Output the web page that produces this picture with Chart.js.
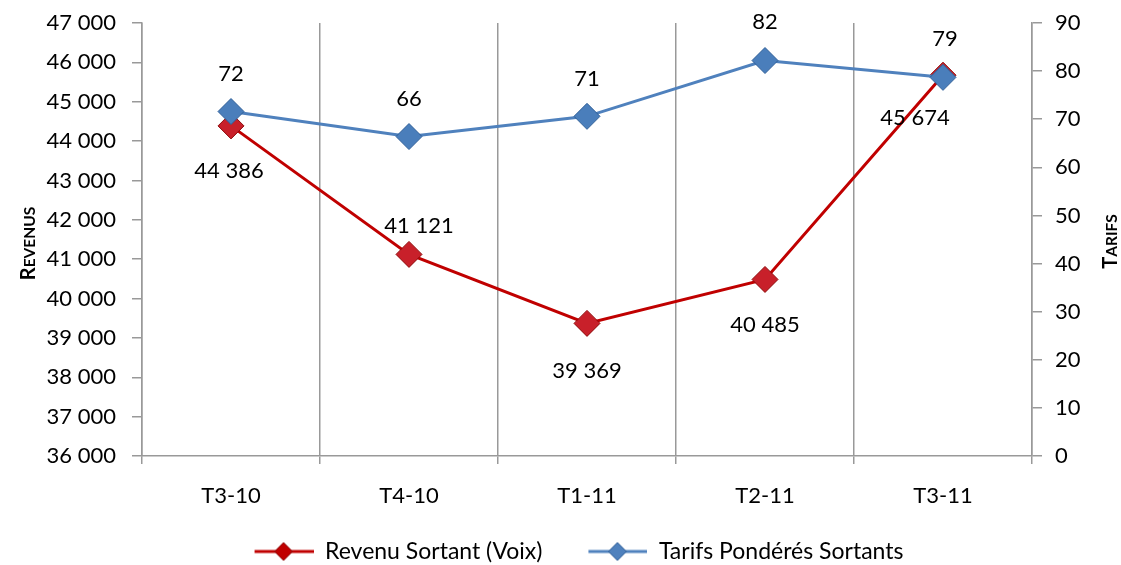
<!DOCTYPE html>
<html>
<head>
<meta charset="utf-8">
<script src="https://cdn.jsdelivr.net/npm/chart.js@4"></script>
<style>
  html, body { margin: 0; padding: 0; background: #fff; }
  #wrap { width: 1121px; height: 565px; }
</style>
</head>
<body>
<div id="wrap"><canvas id="chart"></canvas></div>
<script>
// données
const trimestres = ['T3-10', 'T4-10', 'T1-11', 'T2-11', 'T3-11'];
const revenuSortant = [44386, 41121, 39369, 40485, 45674];
const tarifsPonderes = [71.6, 66.4, 70.6, 82.2, 78.7];
const revenuTicks = [36000, 37000, 38000, 39000, 40000, 41000, 42000, 43000, 44000, 45000, 46000, 47000];

const ROUGE = '#C00000';
const BLEU = '#4F81BD';
const POLICE = 'Lato, "Open Sans", sans-serif';

// décalage des étiquettes (dx, dy) par point
const decalRevenu = [[-2, 45], [10, -29], [0, 48], [0, 45], [-28, 43]];
const decalTarifs = [[0, -38], [0, -38], [0, -37], [0, -39], [2, -38]];

function fmtEspace(v) {
    return Math.round(v).toString().replace(/\B(?=(\d{3})+(?!\d))/g, ' ');
}

// petite image ligne + losange pour la légende (marge transparente à gauche)
function iconeLegende(couleur, bord) {
    const c = document.createElement('canvas');
    c.width = 95; c.height = 22;
    const g = c.getContext('2d');
    g.strokeStyle = couleur;
    g.lineWidth = 3;
    g.beginPath(); g.moveTo(36, 11); g.lineTo(95, 11); g.stroke();
    g.fillStyle = couleur;
    g.strokeStyle = bord;
    g.lineWidth = 1;
    g.beginPath();
    g.moveTo(65, 2); g.lineTo(74, 11); g.lineTo(65, 20); g.lineTo(56, 11); g.closePath();
    g.fill(); g.stroke();
    return c;
}

// petites capitales à la main pour les titres d'axes
function petitesCapitales(ctx, texte, cx, cy) {
    ctx.save();
    ctx.translate(cx, cy);
    ctx.rotate(-Math.PI / 2);
    ctx.fillStyle = '#000';
    ctx.textBaseline = 'alphabetic';
    ctx.textAlign = 'left';
    const grand = 'bold 20px ' + POLICE;
    const petit = 'bold 15.5px ' + POLICE;
    ctx.font = grand;
    const w1 = ctx.measureText(texte[0]).width;
    ctx.font = petit;
    const w2 = ctx.measureText(texte.slice(1)).width;
    const x0 = -(w1 + w2) / 2;
    ctx.font = grand;
    ctx.fillText(texte[0], x0, 7);
    ctx.font = petit;
    ctx.fillText(texte.slice(1), x0 + w1, 7);
    ctx.restore();
}

const etiquettes = {
    id: 'etiquettes',
    afterDatasetsDraw(chart) {
        const ctx = chart.ctx;
        ctx.save();
        ctx.font = '22px ' + POLICE;
        ctx.fillStyle = '#000';
        ctx.textAlign = 'center';
        ctx.textBaseline = 'middle';
        chart.data.datasets.forEach((ds, i) => {
            const meta = chart.getDatasetMeta(i);
            const decal = ds.yAxisID === 'yR' ? decalRevenu : decalTarifs;
            meta.data.forEach((pt, j) => {
                const txt = ds.yAxisID === 'yR' ? fmtEspace(ds.data[j]) : Math.round(ds.data[j]).toString();
                ctx.fillText(txt, pt.x + decal[j][0], pt.y + decal[j][1]);
            });
        });
        ctx.restore();
    }
};

const titresAxes = {
    id: 'titresAxes',
    afterDraw(chart) {
        const area = chart.chartArea;
        const milieu = (area.top + area.bottom) / 2;
        petitesCapitales(chart.ctx, 'REVENUS', 28, milieu + 4);
        petitesCapitales(chart.ctx, 'TARIFS', 1110, milieu + 2);
    }
};

const ctx = document.getElementById('chart').getContext('2d');
const graphique = new Chart(ctx, {
    type: 'line',
    data: {
        labels: trimestres,
        datasets: [{
            label: 'Revenu Sortant (Voix)',
            data: revenuSortant,
            yAxisID: 'yR',
            borderColor: ROUGE,
            backgroundColor: '#C8202A',
            pointBorderColor: '#8E0A0A',
            borderWidth: 3,
            pointStyle: 'rectRot',
            pointRadius: 13,
            pointBorderWidth: 1,
            tension: 0,
            order: 1
        }, {
            label: 'Tarifs Pondérés Sortants',
            data: tarifsPonderes,
            yAxisID: 'yT',
            borderColor: BLEU,
            backgroundColor: '#4A7EBB',
            pointBorderColor: '#2F5F98',
            borderWidth: 3,
            pointStyle: 'rectRot',
            pointRadius: 13,
            pointBorderWidth: 1,
            tension: 0,
            order: 0
        }]
    },
    options: {
        responsive: true,
        maintainAspectRatio: false,
        animation: false,
        layout: { padding: { top: 23, left: 40, right: 39, bottom: -8 } },
        plugins: {
            tooltip: { enabled: false },
            legend: {
                position: 'bottom',
                labels: {
                    font: { size: 23, family: POLICE },
                    color: '#000',
                    usePointStyle: true,
                    pointStyleWidth: 95,
                    padding: 10,
                    generateLabels(chart) {
                        return [0, 1].map(i => ({
                            text: chart.data.datasets[i].label,
                            pointStyle: i === 0 ? iconeLegende(ROUGE, '#8E0A0A') : iconeLegende(BLEU, '#2F5F98'),
                            datasetIndex: i,
                            fontColor: '#000',
                            lineWidth: 0,
                            strokeStyle: 'transparent',
                            fillStyle: 'transparent'
                        }));
                    }
                }
            }
        },
        scales: {
            x: {
                offset: true,
                grid: { offset: true, color: '#999', lineWidth: 1.5, tickLength: 8 },
                border: { color: '#999', width: 1.5 },
                ticks: { color: '#000', font: { size: 22, family: POLICE }, padding: 19 },
                afterFit(scale) { scale.height = 74; }
            },
            yR: {
                position: 'left',
                min: 36000,
                max: 47000,
                afterBuildTicks(scale) { scale.ticks = revenuTicks.map(v => ({ value: v })); },
                grid: { drawOnChartArea: false, color: '#999', lineWidth: 1.5, tickLength: 10 },
                border: { color: '#999', width: 1.5 },
                ticks: {
                    color: '#000',
                    font: { size: 22, family: POLICE },
                    padding: 16,
                    callback: v => fmtEspace(v)
                },
                afterFit(scale) {
                    scale.width = 102;
                    scale.paddingTop = 0;
                    scale.paddingBottom = 0;
                }
            },
            yT: {
                position: 'right',
                min: 0,
                max: 90,
                grid: { drawOnChartArea: false, color: '#999', lineWidth: 1.5, tickLength: 10 },
                border: { color: '#999', width: 1.5 },
                ticks: {
                    stepSize: 10,
                    color: '#000',
                    font: { size: 22, family: POLICE },
                    padding: 13
                },
                afterFit(scale) {
                    scale.width = 50;
                    scale.paddingTop = 0;
                    scale.paddingBottom = 0;
                }
            }
        }
    },
    plugins: [etiquettes, titresAxes]
});
</script>
</body>
</html>
